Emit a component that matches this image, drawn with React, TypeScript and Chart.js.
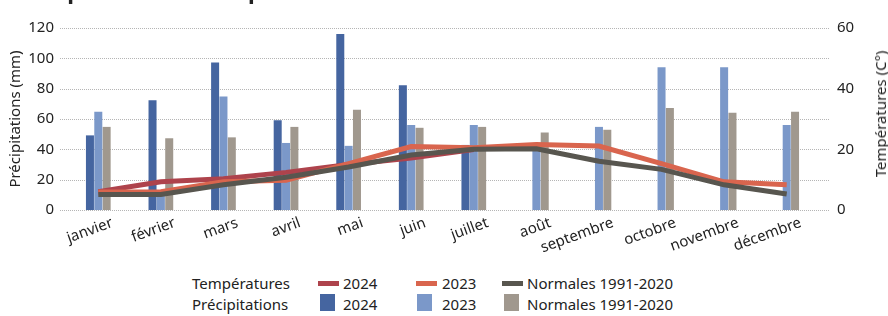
import React, { useEffect, useRef } from 'react';
import { Chart, registerables } from 'chart.js';

Chart.register(...registerables);

const months = ['janvier', 'février', 'mars', 'avril', 'mai', 'juin', 'juillet', 'août', 'septembre', 'octobre', 'novembre', 'décembre'];

const precip2024 = [49.2, 72.3, 97.3, 59.2, 116.1, 82.3, 42.9, null, null, null, null, null];
const precip2023 = [64.8, 12, 74.8, 44.2, 42.3, 56.1, 56.1, 44.2, 54.8, 94.2, 94.2, 56.1];
const precipNormales = [54.8, 47.3, 47.9, 54.8, 66.1, 54.2, 54.8, 51.1, 52.9, 67.3, 64.2, 64.8];

const temp2024 = [6.0, 9.3, 10.3, 12.4, 15.0, 17.1, 19.9, null, null, null, null, null];
const temp2023 = [5.9, 6.0, 9.3, 9.8, 15.3, 20.9, 20.5, 21.6, 21.1, 15.3, 9.3, 8.3];
const tempNormales = [5.1, 5.1, 8.3, 10.8, 14.2, 18.1, 20.0, 20.2, 16.1, 13.4, 8.3, 5.3];

const precipAxis = { min: 0, max: 120, step: 20 };
const tempAxis = { min: 0, max: 60, step: 20 };

const C = {
  bar2024: '#4565a0',
  bar2023: '#7b98c9',
  barNorm: '#a0988e',
  line2024: '#ae434c',
  line2023: '#d9654e',
  lineNorm: '#58564f',
  text: '#222222',
  grid: '#b5b5b5',
};

const FONT = "'Noto Sans', sans-serif";

const gridPlugin = {
  id: 'customGrid',
  beforeDatasetsDraw(chart: any) {
    const { ctx } = chart;
    const y = chart.scales.y;
    ctx.save();
    ctx.strokeStyle = C.grid;
    ctx.lineWidth = 1;
    ctx.setLineDash([1, 1]);
    for (const t of y.ticks) {
      const py = Math.round(y.getPixelForValue(t.value)) + 0.5;
      ctx.beginPath();
      ctx.moveTo(60, py);
      ctx.lineTo(829, py);
      ctx.stroke();
    }
    ctx.restore();
  },
};

function ChartCanvas() {
  const ref = useRef<HTMLCanvasElement>(null);
  useEffect(() => {
    if (!ref.current) return;
    const chart = new Chart(ref.current, {
      type: 'bar',
      data: {
        labels: months,
        datasets: [
          { type: 'line', label: 'Normales 1991-2020', data: tempNormales, yAxisID: 'y1', borderColor: C.lineNorm, backgroundColor: C.lineNorm, borderWidth: 5, pointRadius: 0, tension: 0, order: 1 } as any,
          { type: 'line', label: '2023', data: temp2023, yAxisID: 'y1', borderColor: C.line2023, backgroundColor: C.line2023, borderWidth: 5, pointRadius: 0, tension: 0, order: 2 } as any,
          { type: 'line', label: '2024', data: temp2024, yAxisID: 'y1', borderColor: C.line2024, backgroundColor: C.line2024, borderWidth: 5, pointRadius: 0, tension: 0, order: 3 } as any,
          { type: 'bar', label: '2024', data: precip2024, yAxisID: 'y', backgroundColor: C.bar2024, categoryPercentage: 0.4, barPercentage: 0.96, order: 4 } as any,
          { type: 'bar', label: '2023', data: precip2023, yAxisID: 'y', backgroundColor: C.bar2023, categoryPercentage: 0.4, barPercentage: 0.96, order: 5 } as any,
          { type: 'bar', label: 'Normales 1991-2020', data: precipNormales, yAxisID: 'y', backgroundColor: C.barNorm, categoryPercentage: 0.4, barPercentage: 0.96, order: 6 } as any,
        ],
      },
      options: {
        responsive: false,
        animation: false,
        devicePixelRatio: 1,
        layout: { padding: { top: 18, left: 0, right: 0, bottom: 0 } },
        plugins: { legend: { display: false }, tooltip: { enabled: false }, title: { display: false } },
        scales: {
          x: {
            offset: true,
            grid: { display: false, drawTicks: false },
            border: { display: false },
            ticks: {
              color: C.text,
              font: { family: FONT, size: 15 },
              minRotation: 20,
              maxRotation: 20,
              autoSkip: false,
              padding: 4,
              labelOffset: 14,
            },
            afterFit(scale: any) { scale.height = 52; },
          },
          y: {
            position: 'left',
            min: precipAxis.min,
            max: precipAxis.max,
            grid: { display: false, drawTicks: false },
            border: { display: false },
            ticks: { stepSize: precipAxis.step, color: C.text, font: { family: FONT, size: 15 }, padding: 13 },
            title: { display: true, text: 'Précipitations (mm)', color: C.text, font: { family: FONT, size: 15 }, padding: { top: 7, bottom: 0 } },
            afterFit(scale: any) { scale.width = 67; },
          },
          y1: {
            position: 'right',
            min: tempAxis.min,
            max: tempAxis.max,
            grid: { display: false, drawTicks: false },
            border: { display: false },
            ticks: { stepSize: tempAxis.step, color: C.text, font: { family: FONT, size: 15 }, padding: 19 },
            afterFit(scale: any) { scale.width = 70; },
          },
        },
      },
      plugins: [gridPlugin],
    } as any);
    return () => chart.destroy();
  }, []);
  return <canvas ref={ref} width={888} height={262} style={{ display: 'block', width: 888, height: 262 }} />;
}

const lineSwatch = (color: string) => ({ position: 'absolute' as const, width: 21, height: 5, background: color });
const boxSwatch = (color: string) => ({ position: 'absolute' as const, width: 15, height: 17, background: color });

export default function App() {
  const txt: React.CSSProperties = { position: 'absolute', fontFamily: FONT, fontSize: 15, color: C.text, whiteSpace: 'nowrap', lineHeight: '18px' };
  return (
    <div style={{ position: 'fixed', left: 0, top: 0, width: 888, height: 316, background: '#fff', overflow: 'hidden' }}>
      <div style={{ position: 'absolute', left: 0, top: 0, width: 888, height: 5, overflow: 'hidden' }}>
        <div style={{ position: 'absolute', left: 12, top: -21.5, fontFamily: FONT, fontWeight: 700, fontSize: 22.5, lineHeight: '22.5px', color: C.text, whiteSpace: 'nowrap' }}>
          Précipitations et températures
        </div>
      </div>
      <ChartCanvas />
      <div style={{ position: 'absolute', left: 880, top: 114, transform: 'translate(-50%, -50%) rotate(-90deg)', fontFamily: FONT, fontSize: 15, color: C.text, whiteSpace: 'nowrap' }}>
        Températures (C°)
      </div>
      <div style={{ ...txt, left: 192, top: 274 }}>Températures</div>
      <div style={{ ...txt, left: 192, top: 295 }}>Précipitations</div>

      <div style={{ ...lineSwatch(C.line2024), left: 318, top: 281 }} />
      <div style={{ ...txt, left: 343, top: 274 }}>2024</div>
      <div style={{ ...lineSwatch(C.line2023), left: 416, top: 281 }} />
      <div style={{ ...txt, left: 442, top: 274 }}>2023</div>
      <div style={{ ...lineSwatch(C.lineNorm), left: 502, top: 281 }} />
      <div style={{ ...txt, left: 527, top: 274 }}>Normales 1991-2020</div>

      <div style={{ ...boxSwatch(C.bar2024), left: 320, top: 294 }} />
      <div style={{ ...txt, left: 343, top: 295 }}>2024</div>
      <div style={{ ...boxSwatch(C.bar2023), left: 417, top: 294 }} />
      <div style={{ ...txt, left: 442, top: 295 }}>2023</div>
      <div style={{ ...boxSwatch(C.barNorm), left: 504, top: 294 }} />
      <div style={{ ...txt, left: 527, top: 295 }}>Normales 1991-2020</div>
    </div>
  );
}
